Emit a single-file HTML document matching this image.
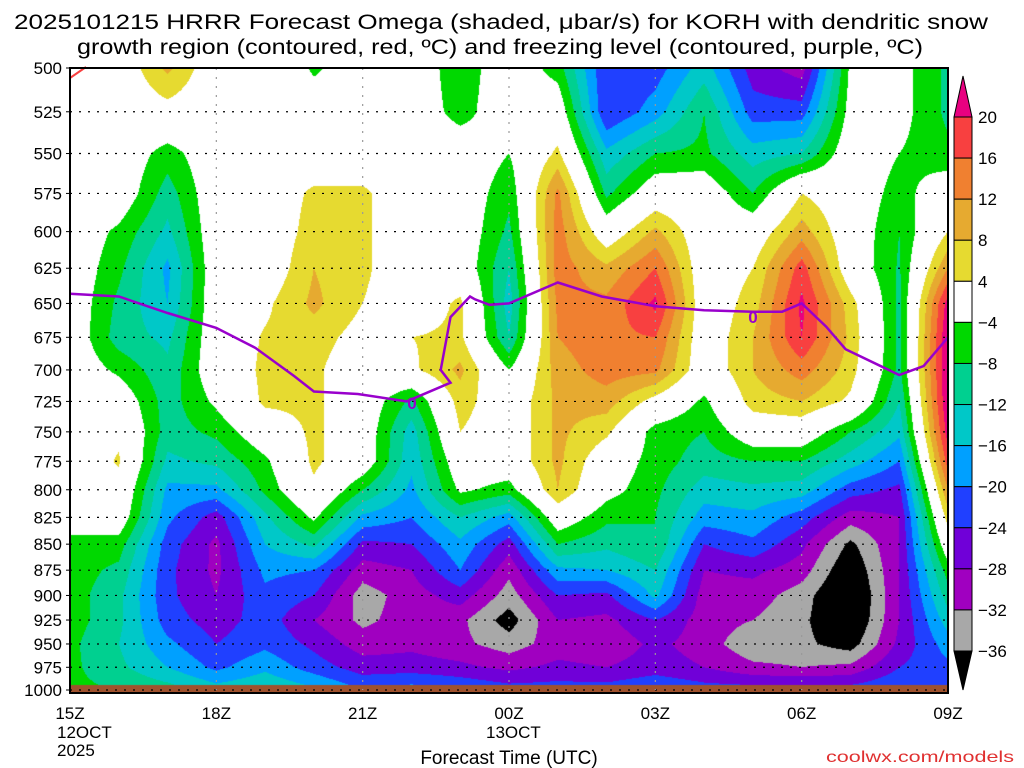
<!DOCTYPE html>
<html><head><meta charset="utf-8"><style>
html,body{margin:0;padding:0;background:#fff;width:1024px;height:768px;overflow:hidden}
#wrap{position:relative;width:1024px;height:768px}
canvas,svg{position:absolute;left:0;top:0}
</style></head><body><div id="wrap">
<canvas id="cv" width="1024" height="768"></canvas>
<svg id="sv" width="1024" height="768" font-family="Liberation Sans, sans-serif"></svg>
</div>
<script>
const hours=["15Z","16Z","17Z","18Z","19Z","20Z","21Z","22Z","23Z","00Z","01Z","02Z","03Z","04Z","05Z","06Z","07Z","08Z","09Z"];
const levels=[500,525,550,575,600,625,650,675,700,725,750,775,800,825,850,875,900,925,950,975,1000];
const omega15=[2,0,0,0,0,0,0,0,0,0,0,0,0,0,-6,-6,-6,-6,-7,-7,-7];
const omega16=[0,0,0,0,-5,-7,-9,-10,-5,0,3,4.5,2,0,-6,-9,-11,-11,-12,-11,-8];
const omega17=[9,2,-6,-10,-13,-17,-16,-13,-11,-10,-10,-13,-17,-19,-22,-23,-23,-22,-19,-16,-10];
const omega18=[0,0,0,0,0,0,0,0,0,-3,-7,-11,-17,-26,-29,-29,-28,-26,-24,-21,-14];
const omega19=[4,0,0,0,0,0,3,4.5,5,5,0,-5,-7,-13,-16,-19,-21,-22,-21,-17,-12];
const omega20=[-5,0,0,5,6,8,9,6,5,5,5,5,3,-3,-11,-20,-24,-28,-25,-22,-15];
const omega21=[0,0,0,5,5,5,4,2,0,0,0,0,-8,-17,-25,-30,-34,-33,-30,-26,-20];
const omega22=[0,0,0,0,0,0,0,4,3,-9,-14,-15,-17,-20,-24,-28,-30,-30,-29,-26,-18];
const omega23=[-7,-6,0,0,0,0,5,5,9,6,4,0,-3,-12,-17,-20,-26,-31,-31,-27,-20];
const omega00=[0,0,-4,-7,-9,-12,-14,-12,-4,0,0,0,-6,-18,-26,-31,-34,-38,-34,-29,-22];
const omega01=[-6,0,5,13,14,14,13,12,10,9,9,9,8,0,-8,-17,-24,-28,-30,-27,-22];
const omega02=[-24,-24,-15,-9,0,9,13,15,14,10,5,0,-2,-7,-11,-16,-25,-29,-31,-28,-22];
const omega03=[-22,-18,-8,0,9,16,21,16,13,2,-6,-6,-7,-8,-8,-12,-15,-24,-27,-26,-20];
const omega04=[-14,-8,-7,0,0,0,0,0,0,-5,-8,-10,-14,-18,-24,-28,-30,-30,-30,-28,-22];
const omega05=[-26,-22,-14,-8,0,4,6,8,8,6,0,-8,-13,-17,-21,-27,-30,-32,-35,-31,-22];
const omega06=[-30,-22,-12,4,10,18,21,20,14,8,0,-8,-14,-22,-27,-30,-34,-35,-35,-32,-22];
const omega07=[-3,-2,0,0,0,0,6,7,6,3,-8,-14,-22,-30,-37,-40,-42,-41,-38,-31,-22];
const omega08=[-2,-2,-4,-6,-8,-8.5,-9,-9,-9,-12,-15,-20,-25,-28,-28,-28,-28,-28,-27,-24,-20];
const omega09=[-9,-9,-7,0,4,12,22,24,24,24,22,18,12,6,0,-6,-10,-14,-18,-21,-22];
const omegaByHour=[omega15,omega16,omega17,omega18,omega19,omega20,omega21,omega22,omega23,omega00,omega01,omega02,omega03,omega04,omega05,omega06,omega07,omega08,omega09];
const freezeHours=[0,1,2,3,3.8,4.6,5.0,5.9,6.9,7.8,7.6,7.8,8.2,8.3,8.6,9,10,10.9,12,13,14,14.3,14.6,15,15.5,15.9,17,17.5,18];
const freezeLevels=[643,645,657,668,683,705,717,719,725,710,700,660,645,647,651,650,635,645,652,655,656,656,656,650,667,684,704,697,675];
const colorTicks=[20,16,12,8,4,-4,-8,-12,-16,-20,-24,-28,-32,-36];
const yTicks=[500,525,550,575,600,625,650,675,700,725,750,775,800,825,850,875,900,925,950,975,1000];
const xTickLabels=["15Z","18Z","21Z","00Z","03Z","06Z","09Z"];
const xTickHours=[0,3,6,9,12,15,18];

const X0=70,X1=948,Y0=68,Y1=690;
function xOf(h){return X0+(X1-X0)*h/18;}
function yOf(p){return Y0+(Y1-Y0)*Math.log(p/500)/Math.LN2;}
function pOf(y){return 500*Math.pow(2,(y-Y0)/(Y1-Y0));}
const cols=[[232,0,128],[248,64,64],[240,128,48],[230,170,48],[230,218,48],[255,255,255],[0,216,0],[0,208,144],[0,200,200],[0,160,255],[32,64,255],[112,0,216],[160,0,192],[168,168,168],[0,0,0]];
function colorIdx(v){
  if(v>=20)return 0;if(v>=16)return 1;if(v>=12)return 2;if(v>=8)return 3;if(v>=4)return 4;
  if(v>-4)return 5;if(v>-8)return 6;if(v>-12)return 7;if(v>-16)return 8;if(v>-20)return 9;
  if(v>-24)return 10;if(v>-28)return 11;if(v>-32)return 12;if(v>-36)return 13;return 14;}
const cv=document.getElementById('cv');const ctx=cv.getContext('2d');
ctx.fillStyle='#fff';ctx.fillRect(0,0,1024,768);
const W=X1-X0,H=Y1-Y0;const img=ctx.createImageData(W,H);
for(let py=0;py<H;py++){
  const p=pOf(Y0+py+0.5);let li=0;while(li<levels.length-2&&levels[li+1]<p)li++;
  const ft=Math.min(1,Math.max(0,(p-levels[li])/(levels[li+1]-levels[li])));
  for(let px=0;px<W;px++){
    const h=(px+0.5)/W*(hours.length-1);let hi=Math.min(hours.length-2,Math.floor(h));const fh=h-hi;
    const a=omegaByHour[hi],b=omegaByHour[hi+1];
    const v=(a[li]*(1-ft)+a[li+1]*ft)*(1-fh)+(b[li]*(1-ft)+b[li+1]*ft)*fh;
    const c=cols[colorIdx(v)];const k=(py*W+px)*4;
    img.data[k]=c[0];img.data[k+1]=c[1];img.data[k+2]=c[2];img.data[k+3]=255;}}
ctx.putImageData(img,X0,Y0);
ctx.fillStyle='#a0522d';ctx.fillRect(X0,685,W,8);

const NS='http://www.w3.org/2000/svg';const sv=document.getElementById('sv');
function mk(tag,attrs,parent){const e=document.createElementNS(NS,tag);for(const k in attrs)e.setAttribute(k,attrs[k]);(parent||sv).appendChild(e);return e;}
yTicks.forEach(p=>{const y=yOf(p);
  const l=mk('line',{x1:X0,x2:X1,y1:y,y2:y,stroke:'#000','stroke-width':1.2,'stroke-dasharray':'2 7'});
  
  
  const t=mk('text',{x:62,y:y+6,'font-size':17,'text-anchor':'end',fill:'#000'});t.textContent=p;
  
  
  const tk=mk('line',{x1:X0-4,x2:X0,y1:y,y2:y,stroke:'#000'});
  
  });
xTickHours.forEach((h,i)=>{const x=xOf(h);
  if(i>0&&i<xTickHours.length-1){const l=mk('line',{x1:x,x2:x,y1:Y0,y2:Y1,stroke:'#999','stroke-width':1.2,'stroke-dasharray':'2 7'});
  
  }
  const t=mk('text',{x:x,y:719,'font-size':17,'text-anchor':'middle',fill:'#000'});t.textContent=xTickLabels[i];
  
  });
let d='';freezeHours.forEach((h,i)=>{d+=(i?'L':'M')+xOf(h).toFixed(1)+' '+yOf(freezeLevels[i]).toFixed(1);});
const fl=mk('path',{d:d,fill:'none',stroke:'#9900cc','stroke-width':2.5});


[[412,409],[753,323]].forEach(q=>{const t=mk('text',{x:q[0],y:q[1],'font-size':17,'font-weight':'bold','text-anchor':'middle',fill:'#9900cc'});t.textContent='0';
  
  });
const rl=mk('line',{x1:70,y1:78,x2:86,y2:67,stroke:'#f84040','stroke-width':2});


const fr=mk('rect',{x:X0,y:Y0,width:W,height:693-Y0,fill:'none',stroke:'#000','stroke-width':2});


const CB0=117,CB1=651,cbx=954,cbw=18;const step=(CB1-CB0)/(colorTicks.length-1);
for(let i=0;i<colorTicks.length-1;i++){const c=cols[i+1];
  const r=mk('rect',{x:cbx,y:CB0+i*step,width:cbw,height:step,fill:`rgb(${c[0]},${c[1]},${c[2]})`,stroke:'#000','stroke-width':1});
  
  }
const tu=mk('polygon',{points:`${cbx},${CB0} ${cbx+cbw},${CB0} ${cbx+cbw/2},76`,fill:'rgb(232,0,128)',stroke:'#000'});


const td=mk('polygon',{points:`${cbx},${CB1} ${cbx+cbw},${CB1} ${cbx+cbw/2},690`,fill:'#000',stroke:'#000'});


colorTicks.forEach((v,i)=>{const t=mk('text',{x:978,y:CB0+i*step+6,'font-size':17,fill:'#000'});t.textContent=(v<0?'\u2212':'')+Math.abs(v);
  
  });
</script>
<svg width="1024" height="768" style="position:absolute;left:0;top:0" font-family="Liberation Sans, sans-serif">
<text x="14" y="29" font-size="21" textLength="974" lengthAdjust="spacingAndGlyphs">2025101215 HRRR Forecast Omega (shaded, μbar/s) for KORH with dendritic snow</text>
<text x="77" y="54" font-size="21" textLength="846" lengthAdjust="spacingAndGlyphs">growth region (contoured, red, ºC) and freezing level (contoured, purple, ºC)</text>
<text x="57" y="738" font-size="17">12OCT</text>
<text x="57" y="756" font-size="17">2025</text>
<text x="486" y="738" font-size="17">13OCT</text>
<text x="509" y="764" font-size="19" text-anchor="middle">Forecast Time (UTC)</text>
<text x="826" y="762" font-size="16" fill="#e03030" textLength="188" lengthAdjust="spacingAndGlyphs">coolwx.com/models</text>
</svg>
</body></html>
